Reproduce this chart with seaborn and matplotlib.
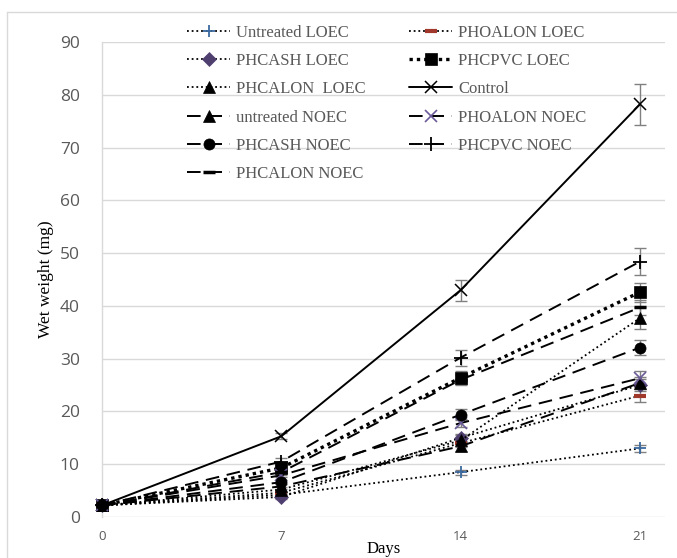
import matplotlib
matplotlib.use("Agg")
import matplotlib.pyplot as plt
import seaborn as sns
import pandas as pd
from matplotlib.lines import Line2D

days = [0, 7, 14, 21]
series_names = ["Untreated LOEC", "PHOALON LOEC", "PHCASH LOEC", "PHCPVC LOEC",
                "PHCALON  LOEC", "Control", "untreated NOEC", "PHOALON NOEC",
                "PHCASH NOEC", "PHCPVC NOEC", "PHCALON NOEC"]

untreated_loec = [2.2, 4.2, 8.5, 13.0]
phoalon_loec = [2.2, 4.6, 14.0, 23.0]
phcash_loec = [2.2, 3.8, 15.0, 25.0]
phcpvc_loec = [2.2, 9.3, 26.4, 42.6]
phcalon_loec = [2.2, 5.2, 14.5, 37.7]
control = [2.2, 15.3, 43.0, 78.2]
untreated_noec = [2.2, 5.8, 13.4, 25.4]
phoalon_noec = [2.2, 7.9, 17.8, 26.3]
phcash_noec = [2.2, 6.6, 19.4, 32.1]
phcpvc_noec = [2.2, 10.5, 30.2, 48.4]
phcalon_noec = [2.2, 8.5, 26.0, 39.7]

err_untreated_loec = [0.2, 0.3, 0.5, 0.6]
err_phoalon_loec = [0.2, 0.3, 0.8, 1.2]
err_phcash_loec = [0.2, 0.3, 0.8, 1.2]
err_phcpvc_loec = [0.2, 0.5, 1.2, 1.8]
err_phcalon_loec = [0.2, 0.5, 1.0, 2.0]
err_control = [0.2, 0.6, 2.0, 3.9]
err_untreated_noec = [0.2, 0.4, 0.8, 1.2]
err_phoalon_noec = [0.2, 0.4, 0.8, 1.3]
err_phcash_noec = [0.2, 0.4, 1.0, 1.4]
err_phcpvc_noec = [0.2, 0.6, 1.5, 2.5]
err_phcalon_noec = [0.2, 0.5, 1.0, 1.5]

values = [untreated_loec, phoalon_loec, phcash_loec, phcpvc_loec, phcalon_loec,
          control, untreated_noec, phoalon_noec, phcash_noec, phcpvc_noec, phcalon_noec]
errors = [err_untreated_loec, err_phoalon_loec, err_phcash_loec, err_phcpvc_loec,
          err_phcalon_loec, err_control, err_untreated_noec, err_phoalon_noec,
          err_phcash_noec, err_phcpvc_noec, err_phcalon_noec]

dot = (0, (1, 1.6))
bigdot = (0, (1, 1.2))
dash = (0, (7, 4))
styles = {
    "Untreated LOEC": dict(ls=dot, lw=1.3, marker="+", ms=8, mec="#3c6aa0", mfc="#3c6aa0", mew=1.3),
    "PHOALON LOEC": dict(ls=dot, lw=1.3, marker="_", ms=8, mec="#a0392c", mfc="#a0392c", mew=3),
    "PHCASH LOEC": dict(ls=dot, lw=1.3, marker="D", ms=7, mec="#4f3f6f", mfc="#4f3f6f", mew=0.5),
    "PHCPVC LOEC": dict(ls=bigdot, lw=2.4, marker="s", ms=8, mec="black", mfc="black", mew=0.5),
    "PHCALON  LOEC": dict(ls=dot, lw=1.3, marker="^", ms=8, mec="black", mfc="black", mew=0.5),
    "Control": dict(ls="-", lw=1.4, marker="x", ms=9, mec="black", mfc="black", mew=1.1),
    "untreated NOEC": dict(ls=dash, lw=1.4, marker="^", ms=8, mec="black", mfc="black", mew=0.5),
    "PHOALON NOEC": dict(ls=dash, lw=1.4, marker="x", ms=9, mec="#6a5a98", mfc="#6a5a98", mew=1.2),
    "PHCASH NOEC": dict(ls=dash, lw=1.4, marker="o", ms=8, mec="black", mfc="black", mew=0.5),
    "PHCPVC NOEC": dict(ls=dash, lw=1.4, marker="+", ms=10, mec="black", mfc="black", mew=1.3),
    "PHCALON NOEC": dict(ls=dash, lw=1.4, marker="_", ms=8, mec="black", mfc="black", mew=2.5),
}

sns.set_theme(style="white")
plt.rcParams["font.family"] = ["Liberation Serif", "DejaVu Sans"]

fig = plt.figure(figsize=(6.77, 5.58), dpi=100)
ax = fig.add_axes([102 / 677, 41 / 558, 563 / 677, 475 / 558])

for name, vals, errs in zip(series_names, values, errors):
    ax.errorbar(days, vals, yerr=errs, fmt="none", ecolor="#808080",
                elinewidth=1.0, capsize=4, capthick=1.0, zorder=2, clip_on=False)

handles = {}
for name, vals in zip(series_names, values):
    st = styles[name]
    df = pd.DataFrame({"Days": days, "w": vals})
    sns.lineplot(data=df, x="Days", y="w", ax=ax, color="black",
                 linestyle=st["ls"], linewidth=st["lw"], marker=st["marker"],
                 markersize=st["ms"], markeredgecolor=st["mec"],
                 markerfacecolor=st["mfc"], markeredgewidth=st["mew"],
                 clip_on=False, zorder=3, errorbar=None, legend=False)
    handles[name] = Line2D([], [], color="black", linestyle=st["ls"], linewidth=st["lw"],
                           marker=st["marker"], markersize=st["ms"], markeredgecolor=st["mec"],
                           markerfacecolor=st["mfc"], markeredgewidth=st["mew"])

ax.set_xlim(0, 21 * 563 / 538)
ax.set_ylim(0, 90)
ax.set_xticks(days)
ax.set_yticks(range(0, 91, 10))
ax.grid(axis="y", color="#d9d9d9", linewidth=1.0)
ax.grid(axis="x", visible=False)
ax.set_axisbelow(True)
for s in ["top", "right", "bottom"]:
    ax.spines[s].set_visible(False)
ax.spines["left"].set_color("#d9d9d9")
ax.spines["left"].set_linewidth(1.0)
ax.tick_params(axis="y", length=0, pad=16, labelsize=12.5, labelcolor="#595959")
ax.tick_params(axis="x", length=0, pad=9, labelsize=9.5, labelcolor="#595959")
for lab in ax.get_yticklabels() + ax.get_xticklabels():
    lab.set_family(["Open Sans", "DejaVu Sans"])

ax.set_xlabel("Days", fontsize=12, color="black", labelpad=-1)
ax.set_ylabel("Wet weight (mg)", fontsize=12.5, color="black", labelpad=4)

order = [0, 2, 4, 6, 8, 10, 1, 3, 5, 7, 9]
leg = fig.legend([handles[series_names[i]] for i in order],
                 [series_names[i] for i in order],
                 ncol=2, loc="upper left", bbox_to_anchor=(172 / 677, 1 - 10 / 558),
                 frameon=False, fontsize=12, handlelength=2.6, handletextpad=0.35,
                 labelspacing=0.73, columnspacing=2.6, labelcolor="#595959")

fig.add_artist(Line2D([7 / 677, 7 / 677], [0, 1 - 12 / 558], transform=fig.transFigure,
                      color="#d9d9d9", lw=1.0))
fig.add_artist(Line2D([7 / 677, 1], [1 - 12 / 558, 1 - 12 / 558], transform=fig.transFigure,
                      color="#d9d9d9", lw=1.0))

fig.savefig("out.png", dpi=100)
